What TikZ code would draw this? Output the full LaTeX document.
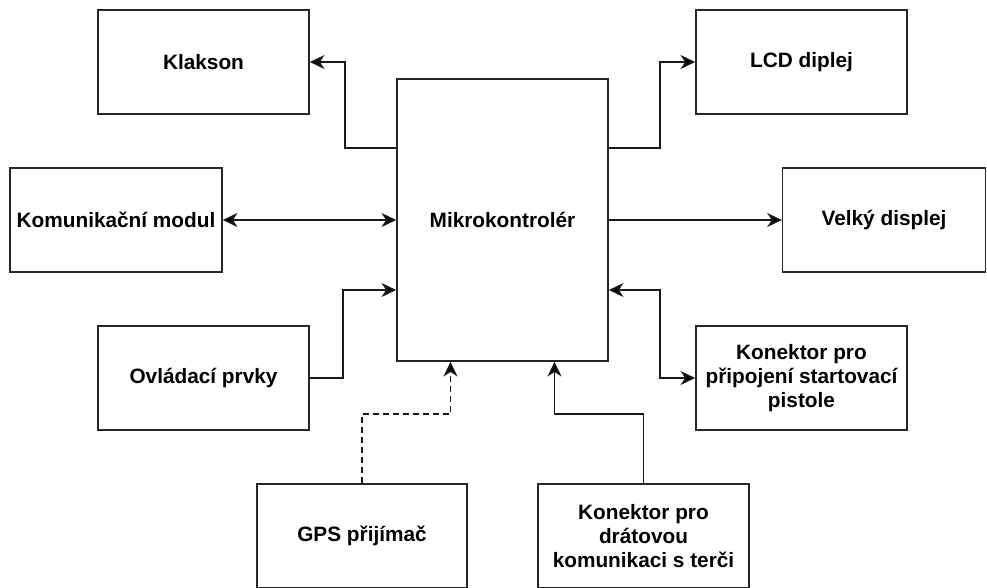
\documentclass[tikz,border=0pt]{standalone}
\usepackage{fontspec}
\setmainfont{Liberation Sans}
\usepackage{tikz}
\usetikzlibrary{arrows.meta,calc}
\tikzstyle{block}=[fill=white, draw=black!85, line width=1.2pt, shape=rectangle, minimum width=158.25pt, minimum height=78pt, align=center, font=\fontsize{15.6}{17.8}\selectfont\bfseries, inner sep=1pt]
\tikzstyle{link}=[draw=black!90, line width=1.2pt, -{Stealth[length=11pt, width=10.5pt, inset=3.4pt, fill=black]}]
\tikzstyle{both link}=[draw=black!90, line width=1.2pt, {Stealth[length=11pt, width=10.5pt, inset=3.4pt, fill=black]}-{Stealth[length=11pt, width=10.5pt, inset=3.4pt, fill=black]}]
\tikzstyle{radio link}=[link, dashed, dash pattern=on 4.5pt off 3pt]
\pgfdeclarelayer{nodelayer}
\pgfdeclarelayer{edgelayer}
\pgfsetlayers{main,nodelayer,edgelayer}
\begin{document}
\begin{tikzpicture}[x=0.75pt, y=-0.75pt]
	\useasboundingbox (0, 0) rectangle (987, 587);
	\begin{pgfonlayer}{nodelayer}
		\node [style=block, minimum height=211.5pt] (mcu) at (502.5, 220) {Mikrokontrolér};
		\node [style=block] (horn) at (203.5, 62) {Klakson};
		\node [style=block] (lcd) at (801.5, 62) {LCD diplej};
		\node [style=block, minimum width=159pt] (comm) at (116, 220) {Komunikační modul};
		\node [style=block, minimum width=152pt] (bigdisp) at (884, 220) {Velký displej};
		\node [style=block] (controls) at (203.5, 378) {Ovládací prvky};
		\node [style=block] (pistol) at (801.5, 378) {Konektor pro\\připojení startovací\\pistole};
		\node [style=block, minimum width=157.5pt] (gps) at (362, 536) {GPS přijímač};
		\node [style=block] (wired) at (643.5, 536) {Konektor pro\\drátovou\\komunikaci s terči};
	\end{pgfonlayer}
	\begin{pgfonlayer}{edgelayer}
		\draw [style=link] ($(mcu.north west)+(0, 70)$) -| ($(horn.east)+(35, 0)$) -- (horn.east);
		\draw [style=link] ($(mcu.north east)+(0, 70)$) -| ($(lcd.west)+(-35, 0)$) -- (lcd.west);
		\draw [style=both link] (comm.east) -- (mcu.west);
		\draw [style=link] (mcu.east) -- (bigdisp.west);
		\draw [style=link] (controls.east) -| ($(mcu.west)+(-53, 70)$) -- ($(mcu.west)+(0, 70)$);
		\draw [style=both link] ($(mcu.east)+(0, 70)$) -| ($(pistol.west)+(-35, 0)$) -- (pistol.west);
		\draw [style=radio link] (gps.north) |- ($(mcu.south)+(-52, 52)$) -- ($(mcu.south)+(-52, 0)$);
		\draw [style=link] (wired.north) |- ($(mcu.south)+(52, 52)$) -- ($(mcu.south)+(52, 0)$);
	\end{pgfonlayer}
\end{tikzpicture}
\end{document}
